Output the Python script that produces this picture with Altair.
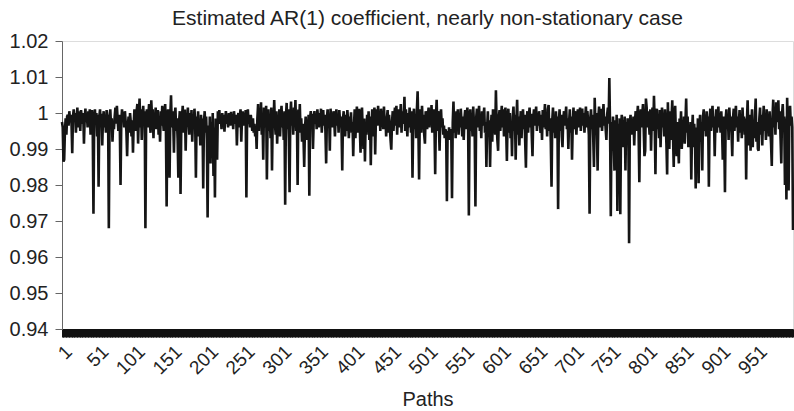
import altair as alt
import pandas as pd

# Estimated AR(1) coefficient per path (100 paths per block)
c0 = [0.9975, 0.9960, 0.9865, 0.9870, 0.9950, 0.9985, 0.9940, 0.9990, 0.9995, 0.9965,
      1.0005, 0.9980, 0.9995, 0.9970, 0.9888, 0.9990, 1.0010, 0.9975, 1.0000, 0.9945,
      0.9985, 1.0015, 0.9960, 1.0005, 0.9985, 0.9950, 1.0008, 0.9990, 0.9970, 1.0000,
      0.9915, 0.9985, 1.0012, 0.9975, 0.9995, 0.9960, 1.0005, 0.9980, 1.0010, 0.9940,
      0.9990, 1.0008, 0.9955, 0.9720, 0.9985, 1.0010, 0.9970, 1.0000, 0.9935, 0.9995,
      0.9795, 0.9990, 1.0010, 0.9965, 0.9998, 0.9910, 0.9985, 1.0005, 0.9960, 0.9990,
      0.9945, 1.0008, 0.9975, 0.9995, 0.9680, 0.9990, 1.0010, 0.9965, 0.9985, 0.9920,
      0.9975, 0.9955, 0.9990, 1.0015, 0.9970, 1.0020, 0.9985, 0.9950, 0.9995, 0.9965,
      0.9800, 0.9975, 1.0010, 0.9985, 0.9995, 0.9960, 1.0005, 0.9975, 0.9950, 0.9880,
      0.9965, 0.9990, 0.9945, 1.0000, 0.9975, 0.9935, 0.9980, 0.9890, 0.9970, 1.0010]
c1 = [0.9985, 0.9950, 1.0005, 1.0025, 0.9915, 0.9990, 1.0040, 0.9960, 1.0010, 0.9925,
      0.9995, 1.0020, 0.9970, 1.0005, 0.9680, 0.9985, 1.0010, 0.9960, 0.9995, 1.0025,
      0.9975, 0.9945, 1.0035, 0.9990, 1.0010, 0.9930, 1.0000, 0.9970, 1.0015, 0.9955,
      0.9990, 1.0008, 0.9940, 0.9985, 0.9920, 1.0005, 0.9965, 1.0020, 0.9980, 0.9950,
      0.9995, 1.0025, 0.9960, 0.9740, 0.9985, 1.0010, 0.9970, 0.9820, 0.9990, 1.0049,
      0.9960, 1.0005, 0.9975, 0.9890, 0.9995, 1.0015, 0.9950, 0.9985, 0.9930, 0.9820,
      0.9975, 1.0005, 0.9775, 0.9960, 0.9990, 1.0020, 0.9945, 0.9995, 1.0010, 0.9895,
      0.9985, 0.9965, 1.0015, 0.9975, 0.9940, 1.0000, 0.9960, 1.0008, 0.9920, 0.9985,
      0.9955, 1.0012, 0.9975, 0.9820, 0.9990, 0.9950, 1.0005, 0.9935, 0.9980, 0.9910,
      0.9995, 0.9960, 0.9985, 0.9790, 0.9975, 1.0005, 0.9945, 0.9990, 0.9925, 0.9710]
c2 = [0.9965, 0.9880, 0.9990, 0.9860, 0.9975, 0.9895, 1.0000, 0.9825, 0.9960, 0.9765,
      0.9985, 0.9950, 0.9870, 1.0005, 0.9980, 1.0008, 0.9970, 0.9990, 0.9955, 1.0000,
      0.9975, 0.9995, 0.9948, 0.9985, 1.0005, 0.9970, 0.9990, 0.9960, 1.0000, 0.9980,
      0.9965, 1.0003, 0.9975, 0.9990, 0.9955, 1.0005, 0.9985, 0.9970, 0.9995, 0.9910,
      0.9980, 1.0000, 0.9960, 0.9990, 1.0010, 0.9920, 0.9985, 1.0005, 0.9965, 0.9995,
      0.9975, 1.0008, 0.9765, 0.9990, 1.0010, 0.9970, 0.9985, 0.9960, 0.9995, 0.9975,
      0.9950, 0.9985, 0.9945, 0.9970, 0.9935, 0.9960, 0.9900, 0.9985, 1.0025, 0.9950,
      1.0010, 0.9965, 1.0030, 0.9940, 0.9995, 0.9870, 1.0015, 0.9960, 0.9990, 1.0020,
      0.9815, 0.9975, 1.0010, 0.9950, 0.9995, 0.9930, 1.0015, 0.9840, 0.9985, 0.9960,
      1.0036, 0.9970, 0.9940, 1.0005, 0.9915, 0.9980, 0.9955, 1.0010, 0.9935, 0.9990]
c3 = [1.0020, 0.9960, 0.9995, 0.9925, 1.0005, 0.9745, 0.9985, 1.0028, 0.9955, 1.0010,
      0.9930, 0.9780, 0.9990, 1.0032, 0.9965, 1.0005, 0.9940, 1.0015, 0.9975, 1.0036,
      0.9950, 0.9995, 0.9800, 1.0010, 0.9960, 1.0025, 0.9945, 0.9985, 0.9920, 0.9970,
      0.9935, 0.9850, 0.9955, 0.9990, 0.9925, 0.9980, 0.9950, 0.9995, 0.9770, 0.9985,
      1.0005, 0.9975, 0.9998, 0.9900, 0.9980, 1.0005, 0.9970, 0.9995, 0.9955, 1.0010,
      0.9985, 0.9960, 1.0000, 0.9975, 1.0012, 0.9945, 0.9990, 1.0008, 0.9965, 0.9995,
      0.9950, 0.9860, 0.9985, 1.0010, 0.9970, 0.9998, 0.9895, 1.0012, 0.9975, 0.9995,
      0.9960, 1.0005, 0.9980, 0.9935, 0.9990, 1.0010, 0.9965, 0.9995, 0.9945, 1.0008,
      0.9975, 0.9990, 0.9955, 0.9840, 0.9985, 1.0005, 0.9965, 0.9935, 0.9995, 0.9950,
      1.0008, 0.9975, 0.9930, 0.9990, 0.9960, 1.0002, 0.9945, 0.9975, 0.9880, 0.9965]
c4 = [1.0010, 0.9930, 0.9985, 1.0018, 0.9945, 0.9995, 1.0012, 0.9960, 0.9890, 0.9990,
      1.0015, 0.9950, 0.9900, 0.9985, 0.9865, 0.9975, 0.9940, 0.9995, 0.9960, 1.0005,
      0.9925, 0.9990, 0.9855, 0.9970, 1.0010, 0.9935, 0.9995, 1.0015, 0.9885, 0.9985,
      1.0010, 0.9965, 1.0020, 0.9975, 1.0000, 0.9950, 1.0012, 0.9980, 0.9995, 0.9955,
      1.0018, 0.9970, 0.9990, 0.9935, 0.9985, 1.0008, 0.9945, 0.9995, 0.9960, 0.9925,
      0.9898, 0.9975, 1.0005, 0.9950, 0.9990, 1.0015, 0.9965, 1.0020, 0.9940, 0.9995,
      1.0010, 0.9960, 0.9985, 1.0025, 0.9945, 1.0005, 0.9970, 0.9990, 1.0045, 0.9950,
      1.0010, 0.9975, 0.9935, 1.0000, 0.9960, 1.0015, 0.9985, 0.9945, 1.0005, 0.9820,
      0.9980, 1.0012, 0.9955, 0.9995, 0.9930, 1.0008, 1.0060, 0.9965, 0.9815, 0.9990,
      1.0010, 0.9945, 1.0020, 0.9970, 0.9995, 0.9940, 0.9915, 1.0005, 0.9975, 0.9955]
c5 = [0.9990, 1.0015, 0.9960, 1.0005, 0.9975, 1.0022, 0.9945, 0.9995, 1.0010, 0.9965,
      0.9830, 0.9985, 1.0037, 0.9950, 1.0005, 0.9970, 0.9895, 0.9990, 1.0010, 0.9960,
      0.9985, 0.9940, 0.9965, 0.9930, 0.9955, 0.9945, 0.9755, 0.9950, 0.9935, 0.9960,
      0.9925, 0.9955, 0.9940, 0.9763, 0.9975, 1.0032, 0.9945, 0.9990, 0.9930, 1.0005,
      0.9965, 1.0010, 0.9940, 0.9995, 0.9960, 1.0012, 0.9975, 0.9935, 0.9990, 0.9925,
      0.9985, 1.0008, 0.9955, 0.9995, 1.0015, 0.9965, 0.9715, 0.9980, 1.0010, 0.9950,
      0.9995, 0.9935, 1.0018, 0.9970, 0.9945, 0.9740, 0.9985, 1.0012, 0.9960, 0.9995,
      1.0020, 0.9950, 0.9990, 0.9930, 1.0005, 0.9965, 0.9990, 1.0015, 0.9945, 0.9975,
      0.9850, 0.9960, 1.0005, 0.9935, 0.9980, 0.9850, 0.9955, 0.9995, 0.9920, 1.0010,
      0.9960, 0.9985, 0.9940, 1.0063, 0.9970, 0.9925, 0.9895, 0.9990, 1.0008, 0.9950]
c6 = [0.9990, 1.0020, 0.9960, 1.0010, 0.9935, 0.9995, 1.0015, 0.9955, 0.9867, 0.9985,
      1.0012, 0.9945, 1.0000, 0.9930, 0.9975, 0.9880, 0.9990, 1.0018, 0.9950, 0.9995,
      0.9870, 0.9980, 1.0037, 0.9940, 0.9990, 0.9910, 0.9975, 1.0005, 0.9930, 0.9985,
      1.0010, 0.9955, 0.9995, 0.9920, 0.9848, 0.9975, 1.0005, 0.9945, 0.9990, 1.0015,
      0.9960, 0.9998, 0.9935, 0.9880, 0.9985, 1.0010, 0.9965, 0.9995, 1.0018, 0.9950,
      0.9990, 0.9965, 1.0005, 0.9975, 0.9945, 0.9995, 0.9925, 1.0008, 0.9960, 0.9990,
      1.0025, 0.9955, 0.9995, 0.9935, 1.0010, 1.0022, 0.9950, 0.9985, 0.9920, 0.9795,
      0.9980, 1.0015, 0.9945, 0.9995, 0.9930, 1.0005, 0.9960, 0.9990, 0.9733, 0.9975,
      1.0010, 0.9950, 0.9995, 0.9935, 0.9905, 0.9980, 1.0005, 0.9965, 0.9990, 1.0018,
      0.9955, 0.9985, 0.9900, 0.9975, 1.0010, 0.9945, 0.9990, 0.9870, 0.9965, 1.0015]
c7 = [0.9955, 1.0005, 0.9970, 0.9940, 0.9990, 1.0010, 0.9960, 0.9995, 1.0015, 0.9950,
      0.9985, 1.0012, 0.9965, 1.0000, 0.9945, 0.9990, 1.0018, 0.9960, 1.0005, 0.9975,
      0.9940, 0.9720, 0.9985, 1.0010, 0.9955, 0.9995, 0.9930, 0.9850, 1.0042, 0.9965,
      1.0000, 0.9945, 0.9840, 0.9990, 1.0018, 0.9960, 0.9995, 1.0012, 0.9950, 0.9985,
      1.0025, 0.9965, 0.9990, 0.9955, 0.9925, 0.9995, 1.0015, 0.9970, 1.0097, 0.9960,
      0.9713, 0.9975, 0.9895, 0.9990, 0.9920, 0.9840, 0.9980, 0.9900, 0.9995, 0.9728,
      0.9970, 0.9890, 0.9985, 0.9719, 0.9960, 0.9995, 0.9905, 0.9980, 0.9935, 0.9990,
      0.9840, 0.9975, 0.9925, 0.9985, 0.9945, 0.9638, 0.9970, 0.9995, 0.9940, 0.9980,
      0.9955, 0.9990, 0.9910, 0.9975, 1.0005, 0.9950, 0.9990, 1.0020, 0.9945, 0.9808,
      0.9985, 1.0010, 0.9960, 0.9995, 1.0025, 0.9955, 0.9880, 0.9895, 1.0040, 1.0015]
c8 = [0.9960, 1.0005, 0.9975, 0.9940, 1.0010, 0.9895, 0.9985, 1.0015, 0.9950, 1.0048,
      0.9970, 0.9830, 0.9995, 1.0012, 0.9955, 0.9990, 0.9930, 1.0008, 0.9905, 0.9985,
      1.0015, 0.9960, 0.9995, 0.9935, 1.0010, 0.9975, 0.9915, 0.9829, 1.0030, 0.9950,
      0.9900, 1.0005, 0.9925, 0.9985, 1.0035, 0.9940, 0.9850, 0.9990, 1.0020, 0.9930,
      0.9880, 0.9975, 0.9910, 0.9860, 0.9985, 0.9945, 1.0005, 0.9900, 0.9965, 0.9930,
      0.9990, 0.9915, 0.9975, 1.0040, 0.9945, 0.9990, 0.9905, 0.9960, 0.9925, 0.9975,
      0.9815, 0.9950, 0.9995, 0.9905, 0.9970, 0.9930, 0.9790, 0.9960, 0.9895, 0.9985,
      0.9805, 0.9955, 0.9995, 0.9920, 0.9975, 0.9840, 0.9990, 1.0010, 0.9950, 0.9995,
      0.9935, 1.0005, 0.9965, 0.9990, 0.9795, 0.9980, 1.0012, 0.9950, 0.9995, 1.0020,
      0.9960, 0.9990, 0.9880, 0.9975, 1.0010, 0.9945, 0.9995, 1.0018, 0.9960, 0.9985]
c9 = [0.9945, 1.0005, 0.9960, 0.9870, 0.9990, 0.9935, 0.9780, 0.9985, 1.0010, 0.9955,
      0.9995, 0.9925, 1.0015, 0.9970, 0.9990, 0.9945, 0.9880, 0.9985, 1.0012, 0.9950,
      0.9995, 1.0020, 0.9960, 0.9990, 0.9920, 0.9975, 1.0008, 0.9945, 0.9995, 0.9930,
      1.0015, 0.9965, 0.9990, 0.9940, 0.9985, 0.9815, 0.9975, 1.0035, 0.9950, 0.9910,
      0.9995, 0.9895, 0.9965, 1.0010, 0.9905, 0.9980, 0.9930, 0.9990, 1.0040, 0.9920,
      0.9975, 0.9900, 0.9895, 0.9985, 1.0015, 0.9940, 0.9995, 0.9910, 0.9980, 1.0020,
      0.9950, 0.9990, 0.9925, 1.0010, 0.9965, 0.9995, 0.9935, 1.0005, 0.9955, 0.9915,
      0.9853, 0.9990, 1.0037, 0.9960, 1.0010, 0.9940, 1.0030, 0.9975, 0.9995, 1.0035,
      0.9955, 1.0005, 0.9930, 0.9860, 0.9995, 1.0025, 0.9960, 0.9990, 0.9800, 0.9985,
      0.9760, 1.0042, 0.9950, 0.9785, 0.9995, 1.0020, 0.9965, 0.9990, 0.9960, 0.9675]

y_ticks = [0.94, 0.95, 0.96, 0.97, 0.98, 0.99, 1.00, 1.01, 1.02]
title_text = ["Estimated AR(1) coefficient, nearly non-stationary case"]

coef = c0 + c1 + c2 + c3 + c4 + c5 + c6 + c7 + c8 + c9
paths = list(range(1, len(coef) + 1))
df = pd.DataFrame({"path": paths, "coef": coef})

FONT = "Liberation Sans"
W, H = 731, 288

line = alt.Chart(df).mark_line(color="#151515", strokeWidth=2.6).encode(
    x=alt.X(
        "path:O",
        sort=None,
        scale=alt.Scale(type="point", padding=0),
        axis=alt.Axis(
            title="Paths",
            titleFont=FONT,
            titleFontSize=20,
            titleFontWeight="normal",
            titleColor="#222222",
            titleY=76,
            titleBaseline="alphabetic",
            labelAngle=-45,
            labelAlign="right",
            labelBaseline="top",
            labelFont=FONT,
            labelFontSize=19,
            labelColor="#222222",
            labelPadding=5,
            labelOverlap=False,
            labelExpr="(datum.value - 1) % 50 == 0 ? datum.label : ''",
            tickSize=8,
            tickColor="#111111",
            tickWidth=1,
            domainColor="#111111",
            domainWidth=1,
            grid=False,
        ),
    ),
    y=alt.Y(
        "coef:Q",
        scale=alt.Scale(domain=[0.94, 1.02], nice=False, zero=False),
        axis=alt.Axis(
            title=None,
            values=y_ticks,
            format=".2~f",
            labelFont=FONT,
            labelFontSize=20,
            labelColor="#222222",
            labelPadding=7,
            tickSize=7,
            tickColor="#666666",
            domainColor="#666666",
            grid=False,
        ),
    ),
)

title = alt.Chart(pd.DataFrame({"t": title_text})).mark_text(
    font=FONT, fontSize=21, color="#222222", align="center", baseline="alphabetic"
).encode(
    text="t:N",
    x=alt.value(W / 2),
    y=alt.value(-16),
)

chart = alt.layer(line, title).properties(
    width=W,
    height=H,
    autosize=alt.AutoSizeParams(type="none"),
    padding={"left": 62, "top": 41, "right": 1, "bottom": 82},
).configure_view(stroke=None).configure(background="white")

chart.save("out.html", embed_options={"renderer": "svg", "actions": False})
